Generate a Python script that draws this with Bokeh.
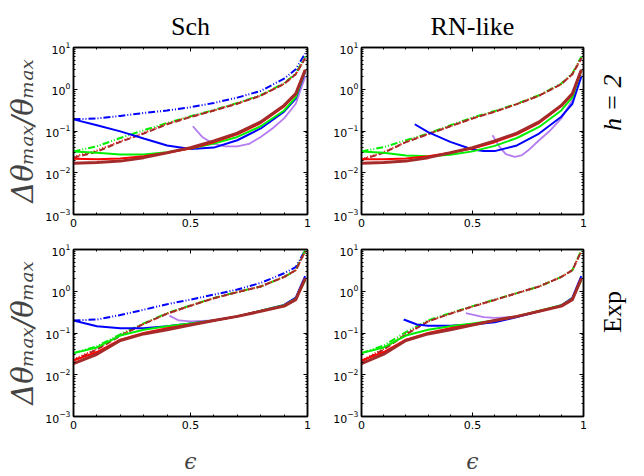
import numpy as np
from bokeh.plotting import figure
from bokeh.layouts import gridplot
from bokeh.models import (LinearAxis, LogAxis, Title, FixedTicker, LogTicker,
                          CustomLabelingPolicy)
from bokeh.embed import file_html
from bokeh.resources import INLINE

# ---------------- data ----------------
col_titles = ["Sch", "RN-like"]
row_titles = ["h = 2", "Exp"]
x_tick_values = [0, 0.5, 1]
x_tick_labels = ["0", "0.5", "1"]
x_label = "ϵ"
y_label = "Δθₘₐₓ/θₘₐₓ"

eps = [0, 0.1, 0.2, 0.3, 0.4, 0.5, 0.6, 0.7, 0.8, 0.9, 0.95, 0.99]

# Sch, h = 2
tl_blue_dd = [0.19, 0.20, 0.23, 0.27, 0.31, 0.37, 0.47, 0.63, 0.91, 1.8, 3.0, 7.2]
tl_green_dd = [0.0325, 0.043, 0.068, 0.104, 0.155, 0.225, 0.32, 0.47, 0.72, 1.4, 2.4, 6.0]
tl_red_dot = [0.024, 0.034, 0.057, 0.09, 0.15, 0.22, 0.31, 0.46, 0.70, 1.35, 2.3, 5.5]
tl_brown_dash = [0.023, 0.032, 0.055, 0.087, 0.145, 0.215, 0.31, 0.45, 0.70, 1.35, 2.3, 5.5]
tl_blue = [0.19, 0.137, 0.098, 0.066, 0.045, 0.037, 0.040, 0.06, 0.115, 0.29, 0.6, 2.6]
tl_green = [0.0325, 0.030, 0.0275, 0.0275, 0.031, 0.038, 0.05, 0.072, 0.13, 0.31, 0.65, 2.8]
tl_red = [0.0217, 0.021, 0.022, 0.025, 0.030, 0.038, 0.054, 0.083, 0.155, 0.39, 0.76, 2.9]
tl_brown = [0.017, 0.0175, 0.019, 0.023, 0.030, 0.040, 0.058, 0.089, 0.165, 0.41, 0.79, 2.9]
tl_violet_x = [0.51, 0.55, 0.6, 0.65, 0.7, 0.75, 0.8, 0.85, 0.9, 0.95, 0.99]
tl_violet = [0.13, 0.072, 0.049, 0.043, 0.043, 0.049, 0.072, 0.115, 0.2, 0.45, 2.0]

# RN-like, h = 2
tr_green_dd = [0.0325, 0.041, 0.06, 0.087, 0.137, 0.21, 0.30, 0.45, 0.72, 1.37, 2.4, 6.0]
tr_red_dot = [0.021, 0.031, 0.055, 0.085, 0.13, 0.2, 0.29, 0.44, 0.7, 1.33, 2.3, 5.5]
tr_brown_dash = [0.0205, 0.030, 0.054, 0.084, 0.13, 0.2, 0.29, 0.44, 0.7, 1.33, 2.3, 5.5]
tr_blue_x = [0.24, 0.3, 0.4, 0.5, 0.55, 0.6, 0.7, 0.8, 0.9, 0.95, 0.99]
tr_blue = [0.145, 0.094, 0.055, 0.036, 0.033, 0.033, 0.045, 0.087, 0.22, 0.45, 2.0]
tr_violet_x = [0.59, 0.62, 0.65, 0.69, 0.72, 0.75, 0.8, 0.85, 0.9, 0.95, 0.99]
tr_violet = [0.079, 0.043, 0.028, 0.024, 0.026, 0.034, 0.06, 0.103, 0.2, 0.55, 2.2]
tr_green = [0.0325, 0.030, 0.026, 0.025, 0.027, 0.0325, 0.044, 0.068, 0.125, 0.31, 0.65, 2.8]
tr_red = [0.021, 0.021, 0.022, 0.025, 0.030, 0.038, 0.054, 0.083, 0.155, 0.39, 0.76, 2.9]
tr_brown = [0.017, 0.0175, 0.019, 0.023, 0.030, 0.040, 0.058, 0.089, 0.165, 0.41, 0.79, 2.9]

# Sch, Exp
bl_blue_dd = [0.2, 0.21, 0.27, 0.36, 0.49, 0.63, 0.83, 1.1, 1.58, 2.7, 3.8, 9.6]
bl_green_dd = [0.033, 0.048, 0.093, 0.17, 0.3, 0.46, 0.69, 0.96, 1.3, 2.2, 3.2, 9.6]
bl_red_dot = [0.023, 0.042, 0.088, 0.165, 0.29, 0.45, 0.68, 0.95, 1.3, 2.2, 3.2, 9.0]
bl_brown_dash = [0.022, 0.040, 0.085, 0.165, 0.29, 0.45, 0.68, 0.95, 1.3, 2.2, 3.2, 9.0]
bl_blue = [0.2, 0.145, 0.13, 0.13, 0.145, 0.17, 0.2, 0.25, 0.34, 0.47, 0.7, 2.3]
bl_green = [0.033, 0.045, 0.087, 0.12, 0.145, 0.17, 0.2, 0.25, 0.34, 0.46, 0.67, 1.8]
bl_red = [0.022, 0.035, 0.069, 0.1, 0.13, 0.16, 0.2, 0.25, 0.335, 0.45, 0.65, 2.0]
bl_brown = [0.0185, 0.031, 0.066, 0.095, 0.12, 0.155, 0.2, 0.25, 0.33, 0.44, 0.63, 2.0]
bl_violet_x = [0.41, 0.45, 0.5, 0.6, 0.7, 0.8, 0.9, 0.95, 0.99]
bl_violet = [0.26, 0.2, 0.19, 0.2, 0.25, 0.34, 0.46, 0.68, 2.1]

# RN-like, Exp
br_green_dd = [0.033, 0.05, 0.105, 0.2, 0.3, 0.44, 0.63, 0.9, 1.3, 2.2, 3.2, 9.6]
br_red_dot = [0.022, 0.042, 0.095, 0.19, 0.29, 0.43, 0.62, 0.9, 1.3, 2.2, 3.2, 9.0]
br_brown_dash = [0.021, 0.040, 0.092, 0.19, 0.29, 0.43, 0.62, 0.9, 1.3, 2.2, 3.2, 9.0]
br_blue_x = [0.19, 0.25, 0.3, 0.4, 0.5, 0.6, 0.7, 0.8, 0.9, 0.95, 0.99]
br_blue = [0.21, 0.16, 0.15, 0.15, 0.16, 0.18, 0.24, 0.33, 0.46, 0.7, 2.3]
br_violet_x = [0.47, 0.55, 0.6, 0.7, 0.8, 0.9, 0.95, 0.99]
br_violet = [0.3, 0.24, 0.23, 0.245, 0.33, 0.45, 0.66, 2.0]
br_green = [0.033, 0.045, 0.087, 0.12, 0.145, 0.17, 0.2, 0.25, 0.34, 0.46, 0.67, 1.8]
br_red = [0.022, 0.035, 0.069, 0.1, 0.13, 0.16, 0.2, 0.25, 0.335, 0.45, 0.65, 2.0]
br_brown = [0.0185, 0.031, 0.066, 0.095, 0.12, 0.155, 0.2, 0.25, 0.33, 0.44, 0.63, 2.0]

BLUE = "#0000ff"
GREEN = "#00ee00"
RED = "#ff0000"
BROWN = "#a52a2a"
VIOLET = "#b47cf0"

DASHDOTDOT = "7 2 1 2 1 2"
DOTTED = "1 2"
DASHED = "6 3"

TICK_FONT = "DejaVu Sans"
SERIF = "Liberation Serif"

HIDE_LABELS = """
for (const i of indices) { indices.unset(i) }
return indices
"""


def style_ticks(ax):
    ax.major_tick_in = 4
    ax.major_tick_out = 0
    ax.minor_tick_in = 2
    ax.minor_tick_out = 0
    ax.axis_line_width = 1.5
    ax.axis_line_color = "black"


def make_panel(width, height, bl, br, bt, bb, title=None, xlab=False, ylab=True, rlabel=None):
    p = figure(width=width, height=height, y_axis_type="log",
               x_range=(0, 1), y_range=(1e-3, 1e1),
               output_backend="svg", toolbar_location=None,
               min_border_left=bl, min_border_right=br,
               min_border_top=bt, min_border_bottom=bb,
               background_fill_color="white", border_fill_color="white")
    p.xgrid.visible = False
    p.ygrid.visible = False
    p.outline_line_color = "black"
    p.outline_line_width = 1.5

    xax = p.below[0]
    yax = p.left[0]

    xt = FixedTicker(ticks=x_tick_values, minor_ticks=[i / 10 for i in range(11)])
    xax.ticker = xt
    xax.major_label_overrides = dict(zip(x_tick_values, x_tick_labels))
    yax.ticker = LogTicker(num_minor_ticks=10)
    for ax in (xax, yax):
        style_ticks(ax)
        ax.major_label_text_font = TICK_FONT
        ax.major_label_text_font_size = "11px"
        ax.major_label_text_color = "black"
        ax.major_label_standoff = 4
    yax.major_label_standoff = 3

    # mirror ticks on top and right (labels hidden by a labeling policy)
    top = LinearAxis(ticker=xt, major_label_policy=CustomLabelingPolicy(code=HIDE_LABELS),
                     major_label_standoff=0, major_label_text_font_size="1px")
    style_ticks(top)
    p.add_layout(top, "above")
    right = LogAxis(ticker=LogTicker(num_minor_ticks=10),
                    major_label_policy=CustomLabelingPolicy(code=HIDE_LABELS),
                    major_label_standoff=0, major_label_text_font_size="1px")
    style_ticks(right)
    p.add_layout(right, "right")

    if ylab:
        yax.axis_label = y_label
        yax.axis_label_text_font = "DejaVu Serif"
        yax.axis_label_text_font_style = "italic"
        yax.axis_label_text_font_size = "29px"
        yax.axis_label_standoff = 2
    if xlab:
        xax.axis_label = x_label
        xax.axis_label_text_font = "DejaVu Serif"
        xax.axis_label_text_font_style = "italic"
        xax.axis_label_text_font_size = "22px"
        xax.axis_label_standoff = 17
    if title is not None:
        p.add_layout(Title(text=title, align="center", text_font=SERIF, text_font_size="26px",
                           text_font_style="normal", text_color="black", standoff=6), "above")
    if rlabel is not None:
        right.axis_label = rlabel
        right.axis_label_text_font = SERIF
        right.axis_label_text_font_size = "26px"
        right.axis_label_text_color = "black"
        right.axis_label_text_font_style = "italic" if rlabel.startswith("h") else "normal"
        right.axis_label_standoff = 24
        if "axis_label_orientation" in right.properties():
            right.axis_label_orientation = np.pi / 2
    return p


def draw(p, xs, ys, color, width=2, dash="solid"):
    p.line(xs, ys, line_color=color, line_width=width, line_dash=dash)


W1, W2 = 330, 314
H1, H2 = 232, 244

tl = make_panel(W1, H1, 73, 23, 47, 18, title=col_titles[0])
tr = make_panel(W2, H1, 22, 57, 47, 18, title=col_titles[1], ylab=False, rlabel=row_titles[0])
bl = make_panel(W1, H2, 73, 23, 17, 60, xlab=True)
br = make_panel(W2, H2, 22, 57, 17, 60, xlab=True, ylab=False, rlabel=row_titles[1])

# top-left
draw(tl, eps, tl_blue_dd, BLUE, 2, DASHDOTDOT)
draw(tl, eps, tl_green_dd, GREEN, 2, DASHDOTDOT)
draw(tl, eps, tl_red_dot, RED, 2, DOTTED)
draw(tl, eps, tl_brown_dash, BROWN, 2, DASHED)
draw(tl, tl_violet_x, tl_violet, VIOLET, 1.8)
draw(tl, eps, tl_blue, BLUE, 2)
draw(tl, eps, tl_green, GREEN, 2)
draw(tl, eps, tl_red, RED, 2)
draw(tl, eps, tl_brown, BROWN, 3)

# top-right
draw(tr, eps, tr_green_dd, GREEN, 2, DASHDOTDOT)
draw(tr, eps, tr_red_dot, RED, 2, DOTTED)
draw(tr, eps, tr_brown_dash, BROWN, 2, DASHED)
draw(tr, tr_violet_x, tr_violet, VIOLET, 1.8)
draw(tr, tr_blue_x, tr_blue, BLUE, 2)
draw(tr, eps, tr_green, GREEN, 2)
draw(tr, eps, tr_red, RED, 2)
draw(tr, eps, tr_brown, BROWN, 3)

# bottom-left
draw(bl, eps, bl_blue_dd, BLUE, 2, DASHDOTDOT)
draw(bl, eps, bl_green_dd, GREEN, 2, DASHDOTDOT)
draw(bl, eps, bl_red_dot, RED, 2, DOTTED)
draw(bl, eps, bl_brown_dash, BROWN, 2, DASHED)
draw(bl, bl_violet_x, bl_violet, VIOLET, 1.8)
draw(bl, eps, bl_blue, BLUE, 2)
draw(bl, eps, bl_green, GREEN, 2)
draw(bl, eps, bl_red, RED, 2)
draw(bl, eps, bl_brown, BROWN, 3)

# bottom-right
draw(br, eps, br_green_dd, GREEN, 2, DASHDOTDOT)
draw(br, eps, br_red_dot, RED, 2, DOTTED)
draw(br, eps, br_brown_dash, BROWN, 2, DASHED)
draw(br, br_violet_x, br_violet, VIOLET, 1.8)
draw(br, br_blue_x, br_blue, BLUE, 2)
draw(br, eps, br_green, GREEN, 2)
draw(br, eps, br_red, RED, 2)
draw(br, eps, br_brown, BROWN, 3)

grid = gridplot([[tl, tr], [bl, br]], toolbar_location=None)

open("out.html", "w").write(file_html(grid, INLINE))
